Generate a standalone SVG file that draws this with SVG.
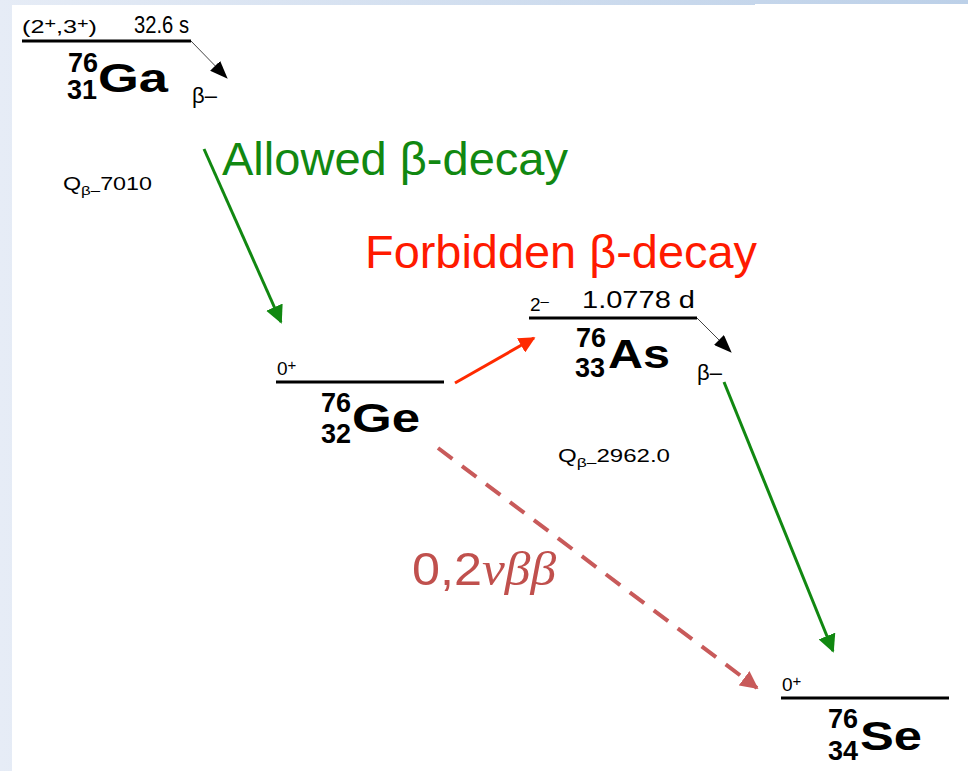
<svg xmlns="http://www.w3.org/2000/svg" width="968" height="771" viewBox="0 0 968 771">
  <defs>
    <linearGradient id="bg" x1="0" y1="0" x2="1" y2="0">
      <stop offset="0" stop-color="#e6ecf6"/>
      <stop offset="1" stop-color="#bcd0e8"/>
    </linearGradient>
    <marker id="head-black" viewBox="0 0 18 14" refX="17" refY="7" markerWidth="18" markerHeight="14" markerUnits="userSpaceOnUse" orient="auto">
      <path d="M0,0 L18,7 L0,14 z" fill="#000"/>
    </marker>
    <marker id="head-green" viewBox="0 0 10 10" refX="9" refY="5" markerWidth="6" markerHeight="6" orient="auto">
      <path d="M0,0 L10,5 L0,10 z" fill="#118811"/>
    </marker>
    <marker id="head-red" viewBox="0 0 10 10" refX="9" refY="5" markerWidth="5.5" markerHeight="5.5" orient="auto">
      <path d="M0,0 L10,5 L0,10 z" fill="#ff2a00"/>
    </marker>
    <marker id="head-rose" viewBox="0 0 10 10" refX="9" refY="5" markerWidth="4.5" markerHeight="4.5" orient="auto">
      <path d="M0,0 L10,5 L0,10 z" fill="#c85a5a"/>
    </marker>
  </defs>
  <style>
    .t { font-family: "Liberation Sans", Arial, sans-serif; fill: #000; }
    .spin { font-size: 19px; }
    .half { font-size: 23px; }
    .mass { font-size: 27px; font-weight: bold; }
    .sym { font-size: 40px; font-weight: bold; }
    .beta { font-size: 22px; }
    .q { font-size: 18px; }
    .qs { font-size: 13px; }
    .level { stroke: #000; stroke-width: 3; }
    .feed { stroke: #444; stroke-width: 1; fill: none; }
    .big { font-family: "Liberation Sans", Arial, sans-serif; font-size: 47px; }
  </style>

  <!-- page background -->
  <rect x="0" y="0" width="968" height="771" fill="url(#bg)"/>
  <rect x="12" y="5" width="743" height="766" fill="#fff"/>
  <rect x="755" y="4" width="213" height="767" fill="#fff"/>

  <!-- 76Ga -->
  <g id="ga76">
    <text class="t spin" x="22" y="33" textLength="75" lengthAdjust="spacingAndGlyphs">(2<tspan font-size="15" dy="-5">+</tspan><tspan dy="5">,3</tspan><tspan font-size="15" dy="-5">+</tspan><tspan dy="5">)</tspan></text>
    <text class="t half" x="134" y="33" textLength="55" lengthAdjust="spacingAndGlyphs">32.6 s</text>
    <line class="level" x1="22" y1="41" x2="191" y2="41"/>
    <line class="feed" x1="191" y1="41" x2="227" y2="78" marker-end="url(#head-black)"/>
    <text class="t mass" x="68" y="72">76</text>
    <text class="t mass" x="67" y="99">31</text>
    <text class="t sym" x="98" y="92" textLength="70" lengthAdjust="spacingAndGlyphs">Ga</text>
    <text class="t beta" x="192" y="103">β–</text>
    <text class="t q" x="63" y="190" textLength="89" lengthAdjust="spacingAndGlyphs">Q<tspan class="qs" dy="5">β–</tspan><tspan dy="-5">7010</tspan></text>
  </g>

  <!-- 76Ge -->
  <g id="ge76">
    <text class="t spin" x="277" y="375">0<tspan font-size="15" dy="-5">+</tspan></text>
    <line class="level" x1="276" y1="382" x2="444" y2="382"/>
    <text class="t mass" x="321" y="412">76</text>
    <text class="t mass" x="321" y="443">32</text>
    <text class="t sym" x="352" y="432" textLength="68" lengthAdjust="spacingAndGlyphs">Ge</text>
  </g>

  <!-- 76As -->
  <g id="as76">
    <text class="t spin" x="530" y="311">2<tspan font-size="15" dy="-5">–</tspan></text>
    <text class="t half" x="582" y="308" textLength="113" lengthAdjust="spacingAndGlyphs">1.0778 d</text>
    <line class="level" x1="529" y1="318" x2="697" y2="318"/>
    <line class="feed" x1="697" y1="318" x2="731" y2="352" marker-end="url(#head-black)"/>
    <text class="t mass" x="576" y="347">76</text>
    <text class="t mass" x="575" y="377">33</text>
    <text class="t sym" x="608" y="368" textLength="62" lengthAdjust="spacingAndGlyphs">As</text>
    <text class="t beta" x="697" y="380">β–</text>
    <text class="t q" x="558" y="462" textLength="112" lengthAdjust="spacingAndGlyphs">Q<tspan class="qs" dy="5">β–</tspan><tspan dy="-5">2962.0</tspan></text>
  </g>

  <!-- 76Se -->
  <g id="se76">
    <text class="t spin" x="782" y="691">0<tspan font-size="15" dy="-5">+</tspan></text>
    <line class="level" x1="781" y1="698" x2="949" y2="698"/>
    <text class="t mass" x="828" y="728">76</text>
    <text class="t mass" x="828" y="760">34</text>
    <text class="t sym" x="860" y="750" textLength="62" lengthAdjust="spacingAndGlyphs">Se</text>
  </g>

  <!-- transitions -->
  <g id="connectors">
    <line x1="204" y1="149" x2="281" y2="322" stroke="#118811" stroke-width="3" marker-end="url(#head-green)"/>
    <line x1="455" y1="383" x2="534" y2="338" stroke="#ff2a00" stroke-width="3" marker-end="url(#head-red)"/>
    <line x1="724" y1="382" x2="833" y2="651" stroke="#118811" stroke-width="3" marker-end="url(#head-green)"/>
    <line x1="438" y1="448" x2="757" y2="688" stroke="#c85a5a" stroke-width="4" stroke-dasharray="18 12" marker-end="url(#head-rose)"/>
  </g>

  <!-- labels -->
  <text class="big" x="222" y="175" fill="#118811" textLength="346" lengthAdjust="spacingAndGlyphs">Allowed β-decay</text>
  <text class="big" x="365" y="268" fill="#ff1a00" textLength="392" lengthAdjust="spacingAndGlyphs">Forbidden β-decay</text>
  <text class="big" x="412" y="585" fill="#c0504d" textLength="144" lengthAdjust="spacingAndGlyphs">0,2<tspan font-family="'Liberation Serif', serif" font-style="italic" font-size="48">νββ</tspan></text>
</svg>
